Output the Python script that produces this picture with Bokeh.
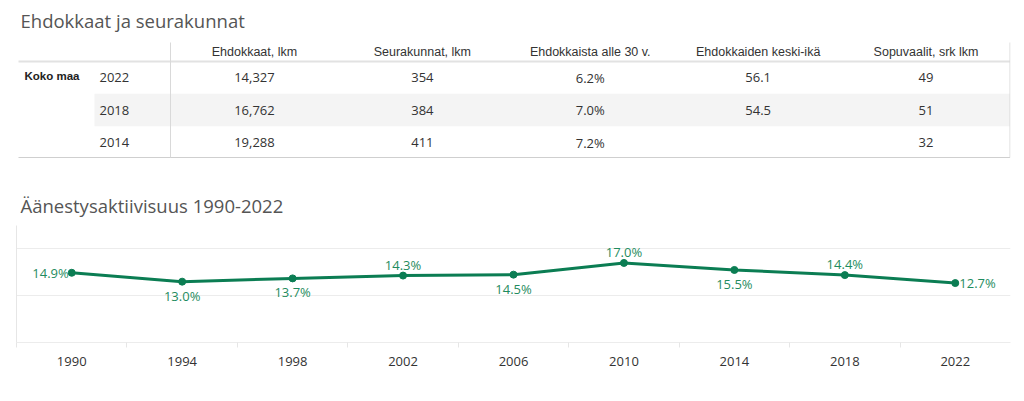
from bokeh.plotting import figure
from bokeh.layouts import column
from bokeh.models import Range1d, FixedTicker, ColumnDataSource
from bokeh.core.properties import value
from bokeh.embed import file_html
from bokeh.resources import INLINE

# ---------------- data ----------------
table_title = "Ehdokkaat ja seurakunnat"
row_group = "Koko maa"
table_years = ["2022", "2018", "2014"]
col_headers = ["Ehdokkaat, lkm", "Seurakunnat, lkm", "Ehdokkaista alle 30 v.",
               "Ehdokkaiden keski-ikä", "Sopuvaalit, srk lkm"]
ehdokkaat = [14327, 16762, 19288]
seurakunnat = [354, 384, 411]
alle_30 = [6.2, 7.0, 7.2]
keski_ika = [56.1, 54.5, None]
sopuvaalit = [49, 51, 32]

chart_title = "Äänestysaktiivisuus 1990-2022"
vuodet = [1990, 1994, 1998, 2002, 2006, 2010, 2014, 2018, 2022]
aktiivisuus = [14.9, 13.0, 13.7, 14.3, 14.5, 17.0, 15.5, 14.4, 12.7]
label_place = ["left", "below", "below", "above", "below", "above", "below", "above", "right"]

# ---------------- styles / layout ----------------
W = 1016
FRAME_L, FRAME_R = 16, 1010
GREEN = "#0b7d53"
LABEL_GREEN = "#1f8c60"
TEXT = "#333333"
TITLE_C = "#555555"
FONT = value("Open Sans")
HFONT = value("Liberation Sans")

TOP_H = 225
T_LEFT, T_SPLIT, T_RIGHT = 18, 170, 1009.5
T_TOP, T_HEAD_LINE, T_BOTTOM = 42, 61, 157
ROW0, ROW_H = 77, 32.5
YEAR_X, GROUP_X = 99, 24
BAND_LEFT = 94

# ---------------- table figure ----------------
p1 = figure(width=W, height=TOP_H, x_range=Range1d(FRAME_L, FRAME_R), y_range=Range1d(TOP_H, 0),
            output_backend="svg", toolbar_location=None,
            min_border_left=FRAME_L, min_border_right=W - FRAME_R, min_border_top=0, min_border_bottom=0)
p1.axis.visible = False
p1.grid.visible = False
p1.outline_line_color = None

band_top = ROW0 + ROW_H * 0.5
p1.quad(left=[BAND_LEFT], right=[T_RIGHT], top=[band_top], bottom=[band_top + ROW_H],
        fill_color="#f4f4f4", line_color=None)

p1.segment(x0=[T_LEFT], x1=[T_RIGHT], y0=[T_HEAD_LINE], y1=[T_HEAD_LINE], line_color="#e2e2e2", line_width=2)
p1.segment(x0=[T_LEFT], x1=[T_RIGHT], y0=[T_BOTTOM], y1=[T_BOTTOM], line_color="#cfcfcf", line_width=1)
p1.segment(x0=[T_SPLIT, T_RIGHT], x1=[T_SPLIT, T_RIGHT], y0=[T_TOP, T_TOP], y1=[T_BOTTOM, T_BOTTOM],
           line_color="#d9d9d9", line_width=1)

p1.text(x=[20], y=[20], text=[table_title], text_font=FONT, text_font_size="18.5px",
        text_color=TITLE_C, text_baseline="middle", text_align="left")
p1.text(x=[20], y=[205], text=[chart_title], text_font=FONT, text_font_size="18.5px",
        text_color=TITLE_C, text_baseline="middle", text_align="left")

ncol = len(col_headers)
colw = (T_RIGHT - T_SPLIT) / ncol
col_x = [T_SPLIT + colw * (i + 0.5) for i in range(ncol)]
p1.text(x=col_x, y=[51] * ncol, text=col_headers, text_font=HFONT, text_font_size="12.5px",
        text_color=TEXT, text_baseline="middle", text_align="center")

p1.text(x=[GROUP_X], y=[ROW0 - 2], text=[row_group], text_font=HFONT, text_font_size="11.5px",
        text_font_style="bold", text_color="#222222", text_baseline="middle", text_align="left")

row_y = [ROW0 + ROW_H * i for i in range(len(table_years))]
p1.text(x=[YEAR_X] * 3, y=row_y, text=table_years, text_font=FONT, text_font_size="13px",
        text_color=TEXT, text_baseline="middle", text_align="left")

cols = [
    [f"{v:,}" for v in ehdokkaat],
    [str(v) for v in seurakunnat],
    [f"{v:.1f}%" for v in alle_30],
    ["" if v is None else f"{v:.1f}" for v in keski_ika],
    [str(v) for v in sopuvaalit],
]
for i, vals in enumerate(cols):
    p1.text(x=[col_x[i]] * len(vals), y=row_y, text=vals, text_font=FONT, text_font_size="13px",
            text_color=TEXT, text_baseline="middle", text_align="center")

# ---------------- line chart ----------------
H2 = 168
p2 = figure(width=W, height=H2, x_range=Range1d(vuodet[0] - 2, vuodet[-1] + 2), y_range=Range1d(0, 25),
            output_backend="svg", toolbar_location=None,
            min_border_left=FRAME_L, min_border_right=W - FRAME_R, min_border_top=0, min_border_bottom=51)
p2.outline_line_color = None
p2.xgrid.visible = False
p2.ygrid.ticker = FixedTicker(ticks=[0, 10, 20])
p2.ygrid.grid_line_color = "#ececec"

p2.yaxis.ticker = FixedTicker(ticks=[])
p2.yaxis.major_label_text_font_size = "0px"
p2.yaxis.major_tick_line_color = None
p2.yaxis.minor_tick_line_color = None
p2.yaxis.major_label_standoff = 0
p2.yaxis.axis_line_color = "#e6e6e6"

bounds = [v - 2 for v in vuodet]
p2.xaxis.ticker = FixedTicker(ticks=vuodet, minor_ticks=bounds)
p2.xaxis.major_label_overrides = {v: str(v) for v in vuodet}
p2.xaxis.major_tick_line_color = None
p2.xaxis.major_tick_out = 0
p2.xaxis.major_tick_in = 0
p2.xaxis.minor_tick_out = 5
p2.xaxis.minor_tick_in = 0
p2.xaxis.minor_tick_line_color = "#e6e6e6"
p2.xaxis.axis_line_color = "#ececec"
p2.xaxis.major_label_standoff = 9
p2.xaxis.major_label_text_font = "Open Sans"
p2.xaxis.major_label_text_font_size = "13px"
p2.xaxis.major_label_text_color = TEXT

p2.line(vuodet, aktiivisuus, line_color=GREEN, line_width=3)
p2.scatter(vuodet, aktiivisuus, size=7, fill_color=GREEN, line_color=GREEN)

place = {"left": (-3, 0, "right"), "right": (4, 0, "left"),
         "above": (0, -11, "center"), "below": (0, 14, "center")}
src = ColumnDataSource(dict(
    x=vuodet, y=aktiivisuus,
    t=[f"{v:.1f}%" for v in aktiivisuus],
    xo=[place[k][0] for k in label_place],
    yo=[place[k][1] for k in label_place],
    al=[place[k][2] for k in label_place],
))
p2.text(x="x", y="y", text="t", x_offset="xo", y_offset="yo", text_align="al", source=src,
        text_baseline="middle", text_font=FONT, text_font_size="13px", text_color=LABEL_GREEN)

layout = column(p1, p2)
open("out.html", "w").write(file_html(layout, INLINE))
